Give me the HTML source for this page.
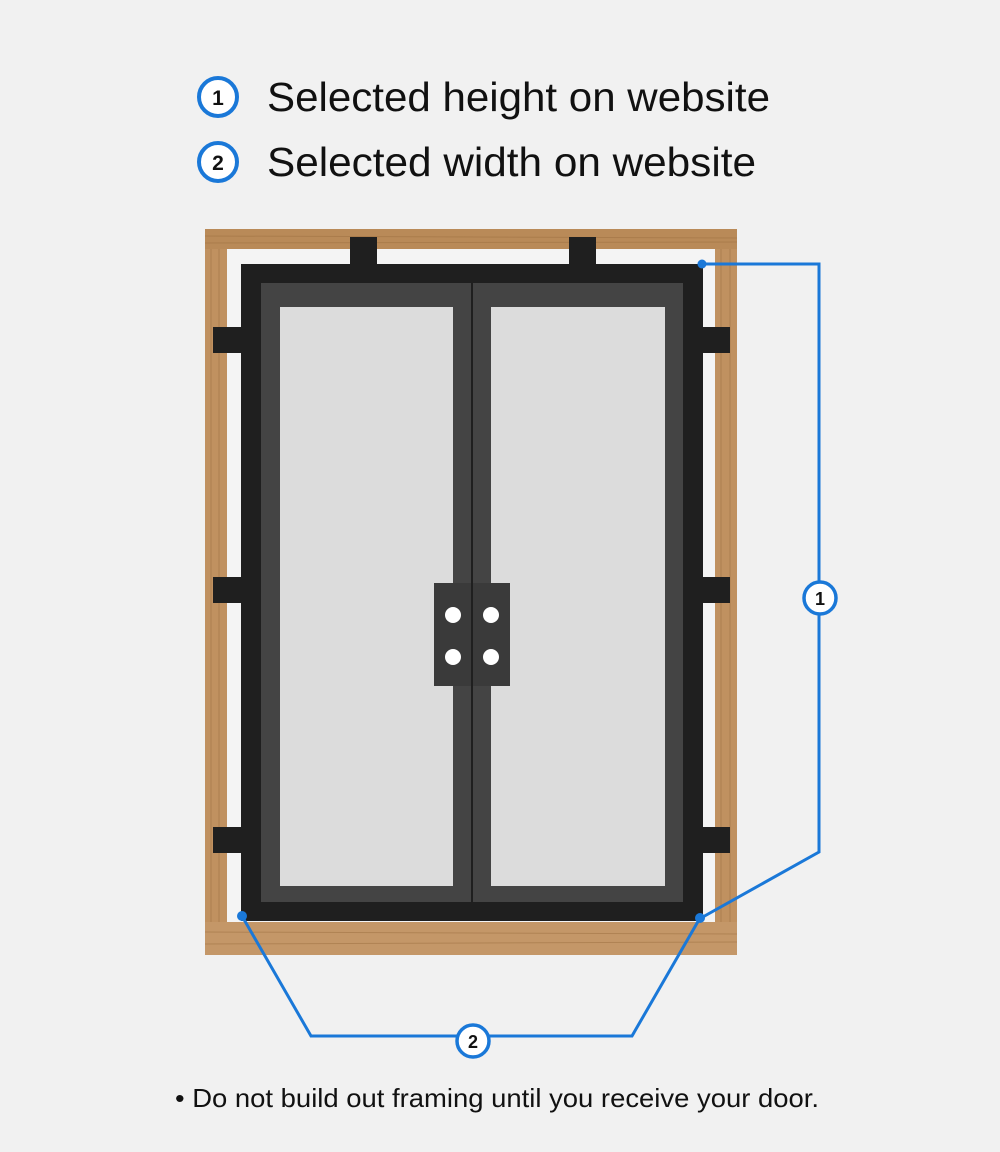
<!DOCTYPE html>
<html><head><meta charset="utf-8"><style>
html,body{margin:0;padding:0;background:#f1f1f1;}
svg{display:block}
text{font-family:"Liberation Sans",sans-serif;}
</style></head><body>
<svg width="1000" height="1152" viewBox="0 0 1000 1152" xmlns="http://www.w3.org/2000/svg">
<rect width="1000" height="1152" fill="#f1f1f1"/>
<!-- legend -->
<circle cx="218" cy="97" r="19" fill="#fff" stroke="#1a78d8" stroke-width="4"/>
<text x="218" y="105" text-anchor="middle" font-size="21" font-weight="bold" fill="#111">1</text>
<text x="267" y="111" font-size="41" fill="#111" textLength="503" lengthAdjust="spacingAndGlyphs">Selected height on website</text>
<circle cx="218" cy="162" r="19" fill="#fff" stroke="#1a78d8" stroke-width="4"/>
<text x="218" y="170" text-anchor="middle" font-size="21" font-weight="bold" fill="#111">2</text>
<text x="267" y="176" font-size="41" fill="#111" textLength="489" lengthAdjust="spacingAndGlyphs">Selected width on website</text>
<!-- wood frame -->
<rect x="205" y="229" width="532" height="726" fill="#c09160"/>
<rect x="205" y="229" width="532" height="20" fill="#b98a58"/>
<rect x="205" y="922" width="532" height="33" fill="#c49768"/>
<g stroke="#9c6f40" stroke-width="1" opacity="0.5">
<line x1="205" y1="236" x2="737" y2="238"/><line x1="205" y1="243" x2="737" y2="242"/>
<line x1="211" y1="249" x2="211" y2="922"/><line x1="219" y1="249" x2="219" y2="922"/>
<line x1="721" y1="249" x2="721" y2="922"/><line x1="730" y1="249" x2="730" y2="922"/>
<line x1="205" y1="932" x2="737" y2="934"/><line x1="205" y1="944" x2="737" y2="942"/>
</g>
<rect x="227" y="249" width="488" height="673" fill="#f4f4f4"/>
<!-- tabs -->
<g fill="#1f1f1f">
<rect x="350" y="237" width="27" height="30"/><rect x="569" y="237" width="27" height="30"/>
<rect x="213" y="327" width="30" height="26"/><rect x="213" y="577" width="30" height="26"/><rect x="213" y="827" width="30" height="26"/>
<rect x="701" y="327" width="29" height="26"/><rect x="701" y="577" width="29" height="26"/><rect x="701" y="827" width="29" height="26"/>
</g>
<!-- door -->
<rect x="241" y="264" width="462" height="657" fill="#1f1f1f"/>
<rect x="261" y="283" width="210" height="619" fill="#444"/>
<rect x="473" y="283" width="210" height="619" fill="#444"/>
<rect x="280" y="307" width="173" height="579" fill="#dcdcdc"/>
<rect x="491" y="307" width="174" height="579" fill="#dcdcdc"/>
<rect x="471" y="283" width="2" height="619" fill="#1f1f1f"/>
<!-- handle -->
<rect x="434" y="583" width="76" height="103" fill="#3a3a3a"/>
<rect x="471" y="583" width="2" height="103" fill="#1f1f1f"/>
<g fill="#fff"><circle cx="453" cy="615" r="8"/><circle cx="491" cy="615" r="8"/><circle cx="453" cy="657" r="8"/><circle cx="491" cy="657" r="8"/></g>
<!-- dimension lines -->
<g fill="none" stroke="#1a78d8" stroke-width="3" stroke-linejoin="miter">
<polyline points="702,264 819,264 819,852 701,918"/>
<polyline points="242,916 311,1036 632,1036 700,918"/>
</g>
<g fill="#1a78d8"><circle cx="702" cy="264" r="4.5"/><circle cx="700" cy="918" r="5"/><circle cx="242" cy="916" r="5"/></g>
<circle cx="820" cy="598" r="16" fill="#fff" stroke="#1a78d8" stroke-width="3.5"/>
<text x="820" y="605" text-anchor="middle" font-size="18" font-weight="bold" fill="#111">1</text>
<circle cx="473" cy="1041" r="16" fill="#fff" stroke="#1a78d8" stroke-width="3.5"/>
<text x="473" y="1048" text-anchor="middle" font-size="18" font-weight="bold" fill="#111">2</text>
<!-- footer -->
<text x="175" y="1107" font-size="26" fill="#111" textLength="644" lengthAdjust="spacingAndGlyphs">• Do not build out framing until you receive your door.</text>
</svg>
</body></html>
